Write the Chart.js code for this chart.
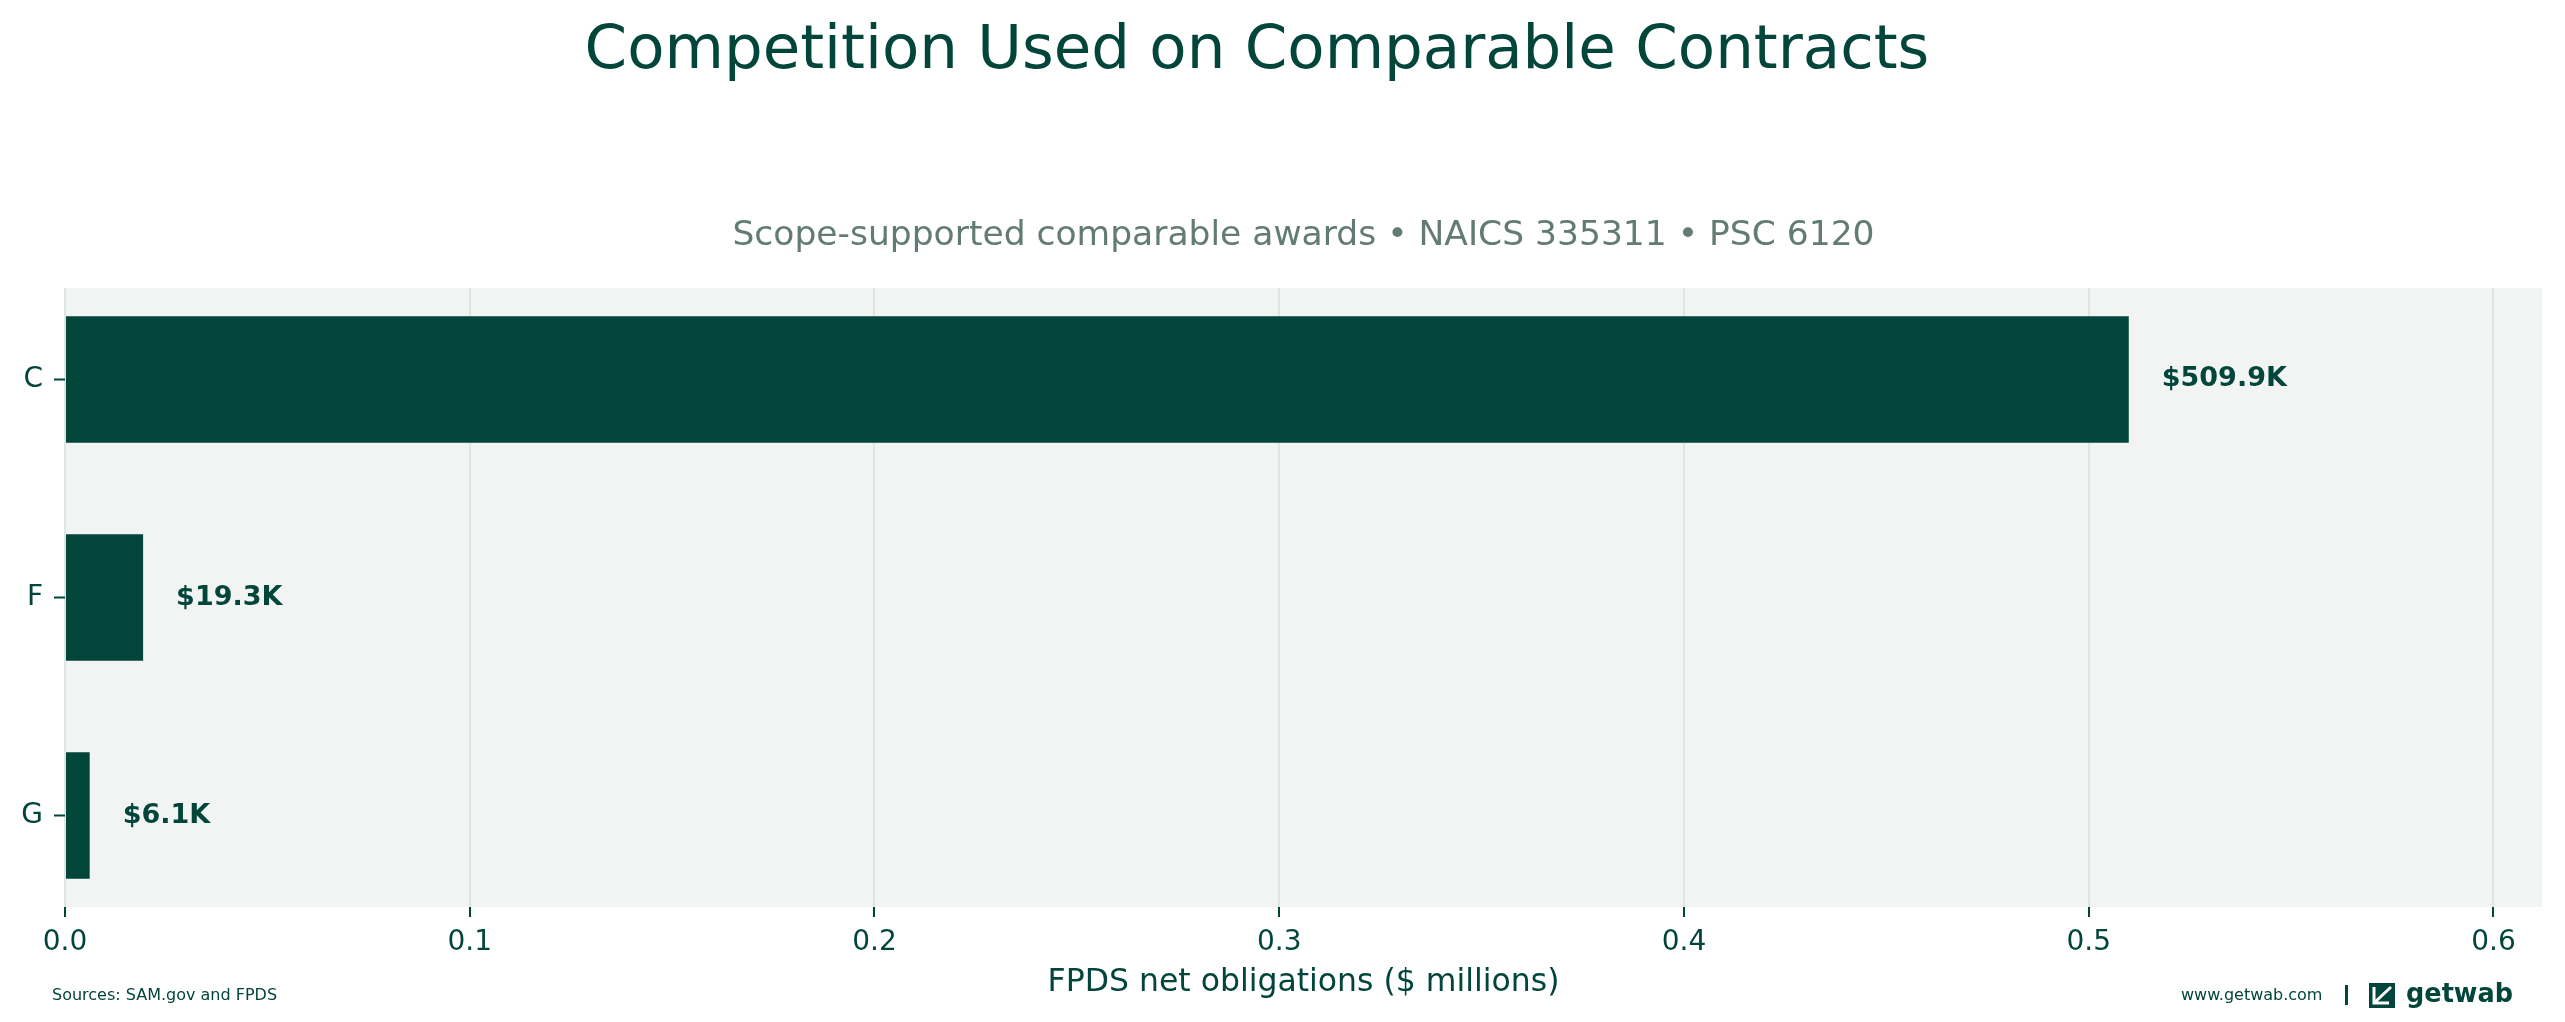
<!DOCTYPE html>
<html>
<head>
<meta charset="utf-8">
<title>Competition Used on Comparable Contracts</title>
<script src="https://cdn.jsdelivr.net/npm/chart.js@4.4.1/dist/chart.umd.min.js"></script>
<style>
  html, body { margin: 0; padding: 0; background: #ffffff; }
  #wrap { width: 2565px; height: 1022px; position: relative; }
</style>
</head>
<body>
<div id="wrap"><canvas id="chart" width="2565" height="1022"></canvas></div>
<script>
// Données
const categories = ['C', 'F', 'G'];
const obligations = [0.5099, 0.0193, 0.0061];   // $ millions
const valueLabels = ['$509.9K', '$19.3K', '$6.1K'];
const xTicks = [0, 0.1, 0.2, 0.3, 0.4, 0.5, 0.6];

const titleText = 'Competition Used on Comparable Contracts';
const subtitleText = 'Scope-supported comparable awards \u2022 NAICS 335311 \u2022 PSC 6120';
const xAxisTitle = 'FPDS net obligations ($ millions)';
const sourceText = 'Sources: SAM.gov and FPDS';
const siteText = 'www.getwab.com';

(() => {
  const GREEN = '#02453A';
  const FONT = "'DejaVu Sans', sans-serif";

  // Fond de la zone de tracé + textes autour du graphique
  const decor = {
    id: 'decor',
    beforeDraw(chart) {
      const { ctx, chartArea: a } = chart;
      ctx.save();
      ctx.fillStyle = '#ffffff';
      ctx.fillRect(0, 0, chart.width, chart.height);
      ctx.fillStyle = '#F2F4F3';
      ctx.fillRect(a.left, a.top, a.right - a.left, a.bottom - a.top);
      ctx.restore();
    },
    afterDraw(chart) {
      const { ctx, chartArea: a } = chart;
      ctx.save();
      ctx.textBaseline = 'alphabetic';
      ctx.textAlign = 'center';

      ctx.fillStyle = GREEN;
      ctx.font = `61px ${FONT}`;
      ctx.fillText(titleText, 1257, 68);

      ctx.fillStyle = '#627B74';
      ctx.font = `34.5px ${FONT}`;
      ctx.fillText(subtitleText, (a.left + a.right) / 2, 245);

      // pied de page
      ctx.fillStyle = GREEN;
      ctx.font = `16px ${FONT}`;
      ctx.textAlign = 'left';
      ctx.textBaseline = 'middle';
      ctx.fillText(sourceText, 52, 996);
      ctx.fillText(siteText, 2181, 996);

      ctx.fillRect(2345, 985, 3, 20);

      // logo
      ctx.fillRect(2369, 983, 26, 25);
      ctx.strokeStyle = '#ffffff';
      ctx.lineWidth = 3;
      ctx.beginPath();
      ctx.moveTo(2374, 1003);
      ctx.lineTo(2391, 987);
      ctx.moveTo(2374, 987);
      ctx.lineTo(2374, 1003);
      ctx.lineTo(2389, 1003);
      ctx.stroke();

      ctx.fillStyle = GREEN;
      ctx.font = `600 27px ${FONT}`;
      ctx.textBaseline = 'alphabetic';
      ctx.fillText('getwab', 2406, 1002, 107);
      ctx.restore();
    }
  };

  // Étiquettes de valeur au bout des barres
  const barLabels = {
    id: 'barLabels',
    afterDatasetsDraw(chart) {
      const { ctx } = chart;
      const meta = chart.getDatasetMeta(0);
      ctx.save();
      ctx.fillStyle = GREEN;
      ctx.font = `bold 27px ${FONT}`;
      ctx.textAlign = 'left';
      ctx.textBaseline = 'middle';
      meta.data.forEach((bar, i) => {
        ctx.fillText(valueLabels[i], bar.x + 33, bar.y);
      });
      ctx.restore();
    }
  };

  const ctx = document.getElementById('chart').getContext('2d');

  new Chart(ctx, {
    type: 'bar',
    data: {
      datasets: [{
        data: categories.map((c, i) => ({ x: obligations[i], y: i })),
        backgroundColor: GREEN,
        borderWidth: 0,
        categoryPercentage: 1,
        barPercentage: 0.58
      }]
    },
    options: {
      indexAxis: 'y',
      responsive: false,
      animation: false,
      devicePixelRatio: 1,
      layout: { padding: { left: 0, top: 288, right: 23, bottom: 0 } },
      plugins: {
        legend: { display: false },
        tooltip: { enabled: false },
        title: { display: false }
      },
      scales: {
        x: {
          type: 'linear',
          min: 0,
          max: 0.612,
          afterBuildTicks: s => { s.ticks = xTicks.map(v => ({ value: v })); },
          afterFit: s => { s.height = 115; },
          border: { display: false },
          grid: {
            color: '#DCE6E2',
            lineWidth: 2,
            tickColor: GREEN,
            tickWidth: 2,
            tickLength: 10
          },
          ticks: {
            color: GREEN,
            font: { family: FONT, size: 28 },
            padding: 9,
            callback: v => v.toFixed(1)
          },
          title: {
            display: true,
            text: xAxisTitle,
            color: GREEN,
            font: { family: FONT, size: 31.5 },
            padding: { top: 0, bottom: 20 }
          }
        },
        y: {
          type: 'linear',
          reverse: true,
          offset: false,
          min: -0.419,
          max: 2.419,
          afterBuildTicks: s => { s.ticks = categories.map((c, i) => ({ value: i })); },
          afterFit: s => { s.width = 65; },
          border: { display: false },
          grid: {
            offset: false,
            drawOnChartArea: false,
            color: GREEN,
            tickColor: GREEN,
            tickWidth: 2,
            tickLength: 11
          },
          ticks: {
            color: GREEN,
            font: { family: FONT, size: 28 },
            padding: 11,
            callback: v => categories[v]
          }
        }
      }
    },
    plugins: [decor, barLabels]
  });
})();
</script>
</body>
</html>
